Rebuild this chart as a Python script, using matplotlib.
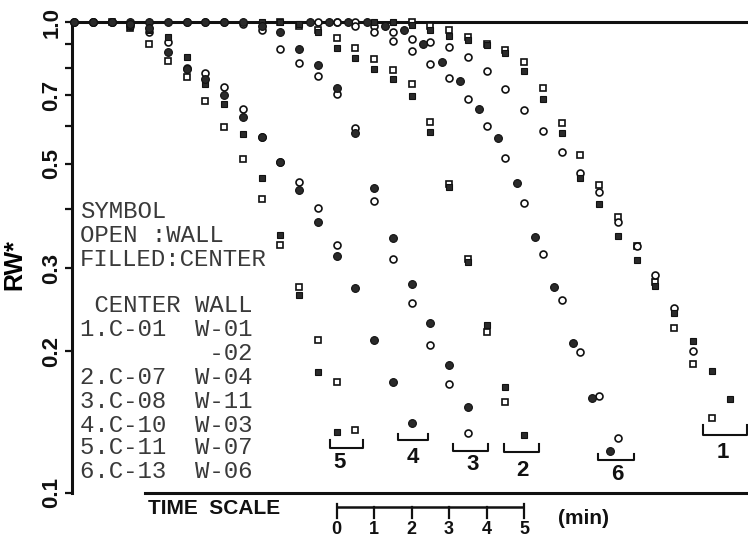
import numpy as np
import matplotlib
matplotlib.use("Agg")
import matplotlib.pyplot as plt

# ---------------- data (RW* vs time, readings every 0.5 min) ----------------
STEP = 0.5

# Curve 1 : C-01 (filled square), W-01 (open square), W-02 (open circle)
c01_t0 = 8.0
c01 = [1.0, 1.0, 0.985, 0.96, 0.932, 0.916, 0.894, 0.859, 0.787, 0.686, 0.581,
       0.466, 0.411, 0.351, 0.312, 0.275, 0.241, 0.210, 0.182, 0.158]
w01_t0 = 9.0
w01 = [1.0, 0.98, 0.96, 0.93, 0.90, 0.87, 0.822, 0.724, 0.610, 0.522, 0.451,
       0.385, 0.335, 0.28, 0.224, 0.188, 0.144]
w02_t0 = 7.0
w02 = [1.0, 1.0, 0.98, 0.95, 0.920, 0.907, 0.885, 0.843, 0.787, 0.721, 0.650,
       0.587, 0.530, 0.478, 0.436, 0.376, 0.335, 0.290, 0.247, 0.200]

# Curve 2 : C-07 (filled square), W-04 (open square)
c07_t0 = 5.0
c07 = [1.0, 1.0, 0.99, 0.95, 0.881, 0.839, 0.795, 0.757, 0.696, 0.584, 0.446,
       0.309, 0.227, 0.168, 0.133]
w04_t0 = 5.5
w04 = [1.0, 0.98, 0.96, 0.925, 0.881, 0.835, 0.791, 0.739, 0.613, 0.452, 0.314,
       0.220, 0.156]

# Curve 3 : C-08 (filled circle), W-11 (open circle)
c08_t0 = 0.0
c08 = [1.0, 1.0, 1.0, 1.0, 1.0, 1.0, 1.0, 1.0, 1.0, 1.0, 0.98, 0.95, 0.876,
       0.810, 0.724, 0.581, 0.444, 0.348, 0.278, 0.230, 0.187, 0.152]
w11_t0 = 3.0
w11 = [1.0, 1.0, 1.0, 0.99, 0.96, 0.876, 0.818, 0.768, 0.705, 0.595, 0.417,
       0.314, 0.253, 0.206, 0.170, 0.134]

# Curve 4 : C-10 (filled circle), W-03 (open circle)
c10_t0 = 0.0
c10 = [1.0, 1.0, 1.0, 0.99, 0.97, 0.864, 0.795, 0.755, 0.700, 0.629, 0.570,
       0.504, 0.440, 0.376, 0.319, 0.272, 0.211, 0.172, 0.141]
w03_t0 = 0.5
w03 = [1.0, 1.0, 0.98, 0.952, 0.907, 0.80, 0.779, 0.728, 0.654, 0.570, 0.504,
       0.457, 0.403, 0.336]

# Curve 5 : C-11 (filled square), W-07 (open square)
c11_t0 = 0.5
c11 = [1.0, 1.0, 0.98, 0.96, 0.93, 0.843, 0.739, 0.670, 0.578, 0.466, 0.353,
       0.263, 0.181, 0.135]
w07_t0 = 1.0
w07 = [1.0, 0.97, 0.898, 0.826, 0.764, 0.680, 0.598, 0.512, 0.421, 0.336,
       0.274, 0.211, 0.172, 0.136]

# Curve 6 : C-13 (filled circle), W-06 (open circle)
c13_t0 = 6.3
c13 = [1.0, 1.0, 1.0, 1.0, 0.98, 0.962, 0.898, 0.822, 0.749, 0.654, 0.567,
       0.455, 0.350, 0.274, 0.208, 0.159, 0.123]
w06_t0 = 6.5
w06 = [1.0, 1.0, 0.98, 0.95, 0.911, 0.868, 0.814, 0.760, 0.686, 0.601, 0.514,
       0.413, 0.322, 0.257, 0.199, 0.161, 0.131]

y_ticks = [0.1, 0.2, 0.3, 0.4, 0.5, 0.6, 0.7, 0.8, 0.9, 1.0]
y_tick_labels = ["0.1", "0.2", "0.3", "", "0.5", "", "0.7", "", "", "1.0"]

legend_lines = ["SYMBOL", "OPEN :WALL", "FILLED:CENTER", "",
                " CENTER WALL", "1.C-01  W-01", "         -02",
                "2.C-07  W-04", "3.C-08  W-11", "4.C-10  W-03",
                "5.C-11  W-07", "6.C-13  W-06"]

# curve labels with their bracket (left time, right time, level)
curve_labels = ["5", "4", "3", "2", "6", "1"]
bracket_left = [6.83, 8.64, 10.11, 11.47, 13.97, 16.77]
bracket_right = [7.71, 9.44, 11.04, 12.40, 14.93, 17.95]
bracket_level = [0.1246, 0.1296, 0.1228, 0.1222, 0.1175, 0.1327]
bracket_tick = [0.1296, 0.1334, 0.1271, 0.1271, 0.1210, 0.1394]
label_t = [7.09, 9.04, 10.64, 11.97, 14.48, 17.31]
label_y = [0.1158, 0.1187, 0.1147, 0.1119, 0.1097, 0.1216]

time_scale_ticks = [0, 1, 2, 3, 4, 5]
time_scale_origin = 7.0

# ---------------- figure ----------------
W, H = 748, 541
fig = plt.figure(figsize=(W / 100, H / 100), dpi=100)
L, R, T, B = 72, 748, 22, 493
ax = fig.add_axes([L / W, 1 - B / H, (R - L) / W, (B - T) / H])
ax.set_yscale("log")
ax.set_ylim(0.1, 1.0)
ax.set_xlim((72 - 74) / 37.5, (748 - 74) / 37.5)

INK = "#111111"
SANS = "Liberation Sans"


def times(t0, vals):
    return t0 + STEP * np.arange(len(vals))


open_sq = dict(ls="none", marker="s", ms=4.2, mfc="white", mec=INK, mew=1.2,
               clip_on=False, zorder=4)
open_ci = dict(ls="none", marker="o", ms=5.0, mfc="white", mec=INK, mew=1.2,
               clip_on=False, zorder=4)
fill_sq = dict(ls="none", marker="s", ms=4.8, mfc="#2a2a2a", mec=INK, mew=0.8,
               clip_on=False, zorder=5)
fill_ci = dict(ls="none", marker="o", ms=5.6, mfc="#2a2a2a", mec=INK, mew=0.8,
               clip_on=False, zorder=5)

for t0, v in [(w01_t0, w01), (w04_t0, w04), (w07_t0, w07)]:
    ax.plot(times(t0, v), v, **open_sq)
for t0, v in [(w02_t0, w02), (w11_t0, w11), (w03_t0, w03), (w06_t0, w06)]:
    ax.plot(times(t0, v), v, **open_ci)
for t0, v in [(c01_t0, c01), (c07_t0, c07), (c11_t0, c11)]:
    ax.plot(times(t0, v), v, **fill_sq)
for t0, v in [(c08_t0, c08), (c10_t0, c10), (c13_t0, c13)]:
    ax.plot(times(t0, v), v, **fill_ci)

# axes styling
ax.spines["right"].set_visible(False)
for s in ["left", "top", "bottom"]:
    ax.spines[s].set_linewidth(2.2)
    ax.spines[s].set_color(INK)
ax.spines["bottom"].set_bounds((145 - 74) / 37.5, (748 - 74) / 37.5)
ax.set_xticks([])
ax.set_yticks(y_ticks)
ax.set_yticklabels(y_tick_labels, rotation=90, va="center",
                   fontsize=16, fontweight="bold", family=SANS)
ax.yaxis.set_minor_locator(matplotlib.ticker.NullLocator())
ax.tick_params(axis="y", direction="out", length=5, width=1.6, pad=2,
               colors=INK)
ax.set_ylabel("RW*", fontsize=18, fontweight="bold", family=SANS)
ax.yaxis.set_label_coords((26 - L) / (R - L), (B - 265) / (B - T))

# curve brackets and labels
for lab, xl, xr, lv, tk, lt, ly in zip(curve_labels, bracket_left, bracket_right,
                                       bracket_level, bracket_tick, label_t, label_y):
    ax.plot([xl, xl, xr, xr], [tk, lv, lv, tk], color=INK, lw=1.5, zorder=3)
    ax.text(lt, ly, lab, ha="center", va="center", fontsize=16,
            fontweight="bold", family=SANS, color=INK)

# time scale bar below the axes
tr = ax.get_xaxis_transform()
y_bar = (B - 507) / (B - T)
y_tick_end = (B - 518) / (B - T)
y_end_top = (B - 504) / (B - T)
y_num = (B - 530) / (B - T)
xs = [time_scale_origin + m for m in time_scale_ticks]
ax.plot([xs[0], xs[-1]], [y_bar, y_bar], transform=tr, color=INK, lw=1.8,
        clip_on=False, solid_capstyle="butt")
for i, (x, m) in enumerate(zip(xs, time_scale_ticks)):
    top = y_end_top if i in (0, len(xs) - 1) else y_bar
    ax.plot([x, x], [top, y_tick_end], transform=tr, color=INK, lw=1.6,
            clip_on=False)
    ax.text(x, y_num, str(m), transform=tr, ha="center", va="center",
            fontsize=13, fontweight="bold", family=SANS, color=INK)
ax.text((148 - 74) / 37.5, (B - 508) / (B - T), "TIME  SCALE", transform=tr,
        ha="left", va="center", fontsize=15, fontweight="bold",
        family=SANS, color=INK)
ax.text((558 - 74) / 37.5, (B - 518) / (B - T), "(min)", transform=tr,
        ha="left", va="center", fontsize=15, fontweight="bold",
        family=SANS, color=INK)

# symbol legend text block
y_lines = [211, 236, 259, None, 305, 330, 354, 378, 401, 425, 448, 471]
for txt, yl in zip(legend_lines, y_lines):
    if yl is None or not txt:
        continue
    fig.text(80 / W, 1 - yl / H, txt, ha="left", va="center", fontsize=17.3,
             family="Liberation Mono", color="#3a3a3a")

fig.savefig("out.png", dpi=100)
